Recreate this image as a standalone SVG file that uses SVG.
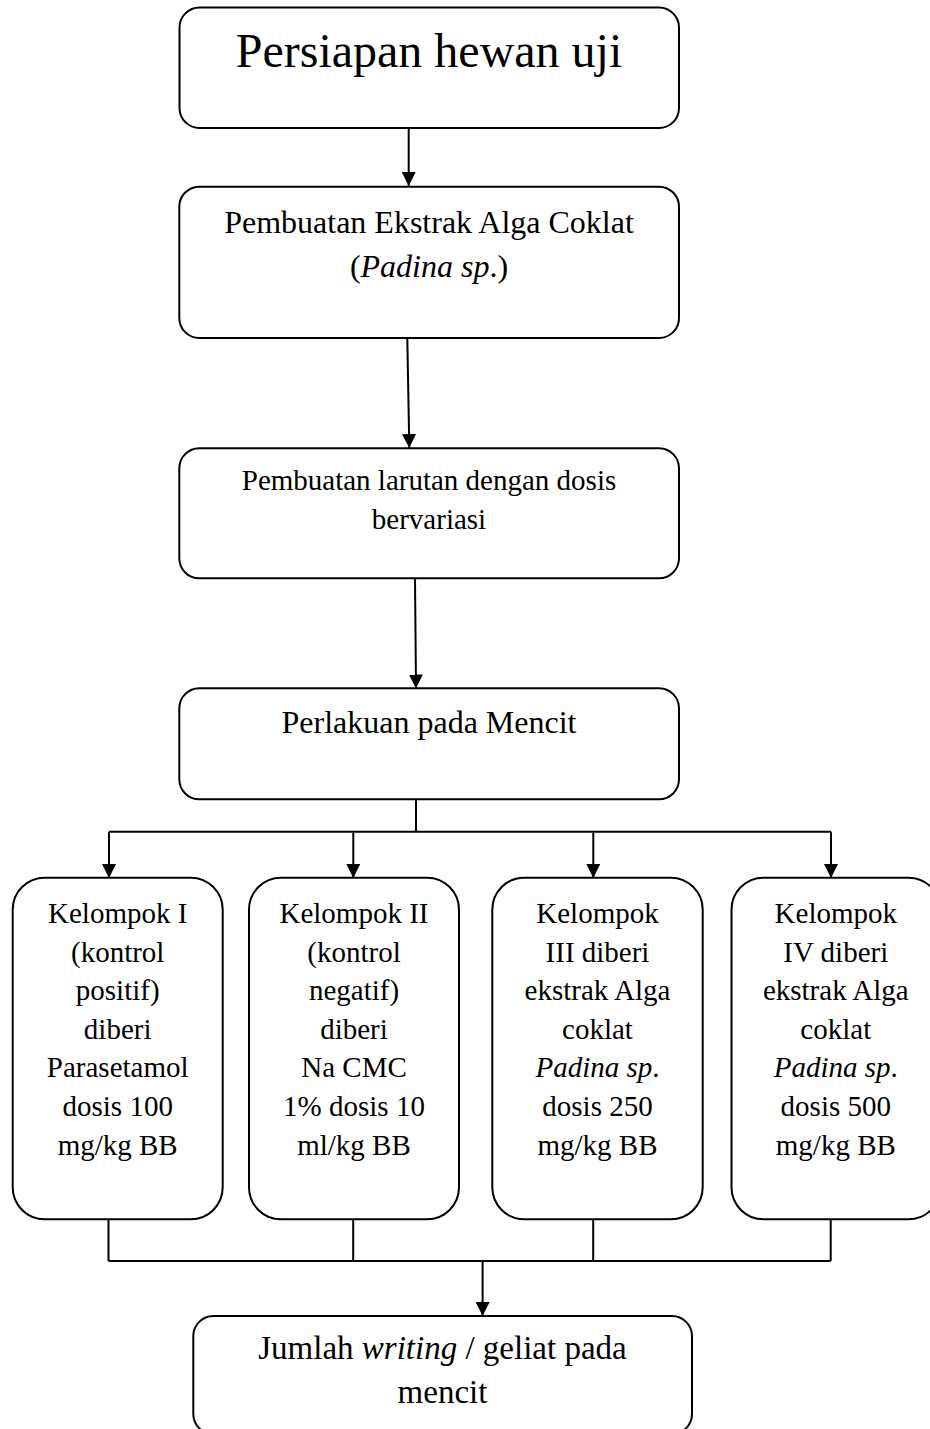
<svg xmlns="http://www.w3.org/2000/svg" width="930" height="1429" viewBox="0 0 930 1429">
<style>
.box{fill:#fff;stroke:#000;stroke-width:2}
.t{font-family:"Liberation Serif","Times New Roman",serif;fill:#000;text-anchor:middle}
.i{font-style:italic}
.c{fill:none;stroke:#000;stroke-width:2}
</style>
<defs>
<marker id="ah" markerUnits="userSpaceOnUse" markerWidth="14" markerHeight="14" refX="14" refY="7" orient="auto">
<path d="M0,0 L14,7 L0,14 z" fill="#000"/>
</marker>
</defs>
<rect width="930" height="1429" fill="#fff"/>
<g id="connectors">
<path class="c" d="M408.7,128 L408.7,186" marker-end="url(#ah)"/>
<path class="c" d="M407.3,338 L409.3,448" marker-end="url(#ah)"/>
<path class="c" d="M415,578.5 L416,688.5" marker-end="url(#ah)"/>
<path class="c" d="M416,799.5 L416,831.7 M109,831.7 L831,831.7"/>
<path class="c" d="M109,831.7 L109,878" marker-end="url(#ah)"/>
<path class="c" d="M353.3,831.7 L353.3,878" marker-end="url(#ah)"/>
<path class="c" d="M593.3,831.7 L593.3,878" marker-end="url(#ah)"/>
<path class="c" d="M831,831.7 L831,878" marker-end="url(#ah)"/>
<path class="c" d="M108.5,1219 L108.5,1261 M353.2,1219 L353.2,1261 M593.2,1219 L593.2,1261 M830.7,1219 L830.7,1261 M108.5,1261 L830.7,1261"/>
<path class="c" d="M482.6,1261 L482.6,1316" marker-end="url(#ah)"/>
</g>
<g id="n1">
<rect class="box" x="179.5" y="7.5" width="499.5" height="120.5" rx="20"/>
<text class="t" x="429" y="67" font-size="48">Persiapan hewan uji</text>
</g>
<g id="n2">
<rect class="box" x="179.3" y="186.7" width="499.7" height="151.3" rx="20"/>
<text class="t" x="429" y="233" font-size="32">Pembuatan Ekstrak Alga Coklat</text>
<text class="t" x="429" y="277" font-size="32">(<tspan class="i">Padina sp</tspan>.)</text>
</g>
<g id="n3">
<rect class="box" x="179.3" y="448.3" width="499.7" height="130" rx="20"/>
<text class="t" x="429" y="490" font-size="29">Pembuatan larutan dengan dosis</text>
<text class="t" x="429" y="529.3" font-size="29">bervariasi</text>
</g>
<g id="n4">
<rect class="box" x="179.3" y="688.3" width="499.7" height="111" rx="20"/>
<text class="t" x="429" y="733.3" font-size="32">Perlakuan pada Mencit</text>
</g>
<g id="k1">
<rect class="box" x="12.7" y="877.7" width="210" height="341.6" rx="32"/>
<g class="t" font-size="29">
<text x="117.7" y="923">Kelompok I</text>
<text x="117.7" y="961.6">(kontrol</text>
<text x="117.7" y="1000.2">positif)</text>
<text x="117.7" y="1038.8">diberi</text>
<text x="117.7" y="1077.4">Parasetamol</text>
<text x="117.7" y="1116">dosis 100</text>
<text x="117.7" y="1154.6">mg/kg BB</text>
</g>
</g>
<g id="k2">
<rect class="box" x="249" y="877.7" width="210" height="341.6" rx="32"/>
<g class="t" font-size="29">
<text x="354" y="923">Kelompok II</text>
<text x="354" y="961.6">(kontrol</text>
<text x="354" y="1000.2">negatif)</text>
<text x="354" y="1038.8">diberi</text>
<text x="354" y="1077.4">Na CMC</text>
<text x="354" y="1116">1% dosis 10</text>
<text x="354" y="1154.6">ml/kg BB</text>
</g>
</g>
<g id="k3">
<rect class="box" x="492.3" y="877.7" width="210.4" height="341.6" rx="32"/>
<g class="t" font-size="29">
<text x="597.5" y="923">Kelompok</text>
<text x="597.5" y="961.6">III diberi</text>
<text x="597.5" y="1000.2">ekstrak Alga</text>
<text x="597.5" y="1038.8">coklat</text>
<text x="597.5" y="1077.4"><tspan class="i">Padina sp</tspan>.</text>
<text x="597.5" y="1116">dosis 250</text>
<text x="597.5" y="1154.6">mg/kg BB</text>
</g>
</g>
<g id="k4">
<rect class="box" x="731.5" y="877.7" width="209" height="341.6" rx="32"/>
<g class="t" font-size="29">
<text x="835.8" y="923">Kelompok</text>
<text x="835.8" y="961.6">IV diberi</text>
<text x="835.8" y="1000.2">ekstrak Alga</text>
<text x="835.8" y="1038.8">coklat</text>
<text x="835.8" y="1077.4"><tspan class="i">Padina sp</tspan>.</text>
<text x="835.8" y="1116">dosis 500</text>
<text x="835.8" y="1154.6">mg/kg BB</text>
</g>
</g>
<g id="n5">
<rect class="box" x="193.3" y="1316" width="498.7" height="118" rx="20"/>
<text class="t" x="442.5" y="1359.3" font-size="33">Jumlah <tspan class="i">writing</tspan> / geliat pada</text>
<text class="t" x="442.5" y="1402.7" font-size="33">mencit</text>
</g>
</svg>
